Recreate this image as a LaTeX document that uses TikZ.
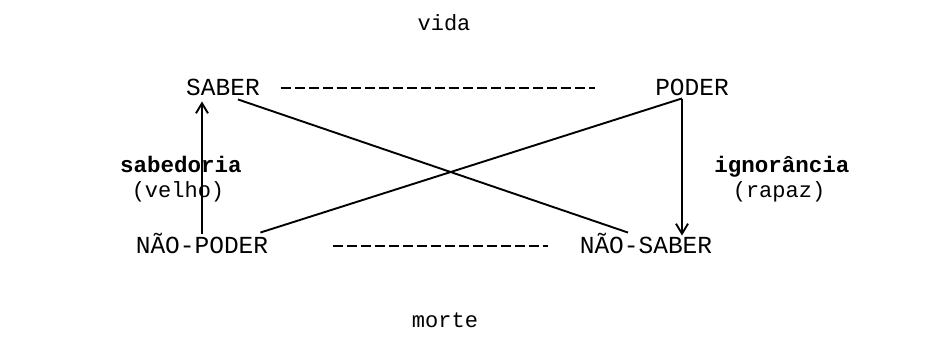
\documentclass[tikz,border=0pt]{standalone}
\usepackage{fontspec}
\setmainfont{Liberation Mono}
\usetikzlibrary{arrows.meta}

\begin{document}
\begin{tikzpicture}[x=1pt,y=-1pt,>={Straight Barb[length=10pt,width=12pt]},
    word/.style={inner sep=0pt,anchor=base,font=\fontsize{22}{24}\selectfont},
    term/.style={word,font=\fontsize{24.5}{26}\selectfont},
    heavy/.style={word,font=\fontsize{22.5}{24}\selectfont\bfseries},
    link/.style={line width=1.9pt},
    pair/.style={line width=1.9pt,dash pattern=on 10pt off 4pt}]
            \useasboundingbox (0,0) rectangle (937,351);
            \node[word] (vida) at (444,30) {vida};
            \node[term] (sab) at (223,95) {SABER};
            \node[term] (pod) at (692,95) {PODER};
            \node[heavy] (sabed) at (181,172) {sabedoria};
            \node[word] (velho) at (178,197) {(velho)};
            \node[heavy] (ign) at (782,172) {ignorância};
            \node[word] (rapaz) at (779,197) {(rapaz)};
            \node[term] (npod) at (202,253) {NÃO-PODER};
            \node[term] (nsab) at (646,253) {NÃO-SABER};
            \node[word] (morte) at (445,327) {morte};
            \draw[pair] ([xshift=21pt,yshift=7pt]sab.base east) -- ([xshift=-60pt,yshift=7pt]pod.base west);
            \draw[pair] ([xshift=65pt,yshift=7pt]npod.base east) -- ([xshift=-32pt,yshift=7pt]nsab.base west);
            \draw[link,->] ([yshift=-1pt]npod.north) -- ([yshift=-6pt]npod.north |- sab.south);
            \draw[link,->] ([xshift=-10pt,yshift=-4pt]pod.south) -- ([xshift=-10pt,yshift=-3pt]pod.south |- nsab.north);
            \draw[link] ([xshift=-22pt,yshift=-4pt]sab.south east) -- ([xshift=-18pt,yshift=0pt]nsab.north);
            \draw[link] ([xshift=-8pt,yshift=0pt]npod.north east) -- ([xshift=-10pt,yshift=-3pt]pod.south);
        \end{tikzpicture}
\end{document}
